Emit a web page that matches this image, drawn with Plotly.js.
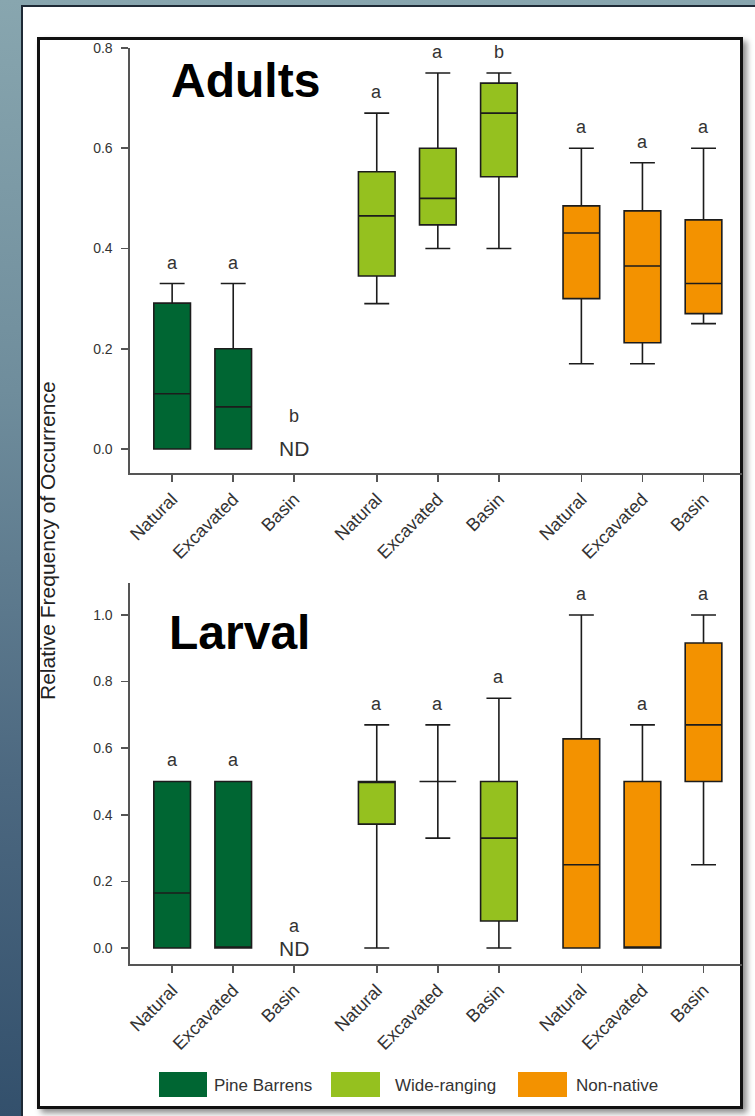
<!DOCTYPE html>
<html>
<head>
<meta charset="utf-8">
<script src="https://cdn.plot.ly/plotly-3.0.1.min.js"></script>
<style>
  html, body { margin:0; padding:0; }
  body { width:755px; height:1116px; position:relative; overflow:hidden;
         background: linear-gradient(to bottom, #88a6af 0%, #6f8d9c 35%, #4c6880 70%, #33506c 100%); }
  #panel { position:absolute; left:21px; top:5px; right:0; bottom:0; background:#ffffff;
           border-top:2px solid #1e2a36; border-left:2px solid #1e2a36; }
  #frame { position:absolute; left:37px; top:37px; width:700px; height:1066px;
           border:3px solid #111; background:#fff; box-shadow: 4px 4px 6px rgba(0,0,0,0.45); }
  #chart { position:absolute; left:0; top:0; width:755px; height:1116px; }
</style>
</head>
<body>
<div id="panel"></div>
<div id="frame"></div>
<div id="chart"></div>
<script>
// ---- data ----
const groups = ["Pine Barrens", "Wide-ranging", "Non-native"];
const sites = ["Natural", "Excavated", "Basin"];
const groupColors = ["#006633", "#95c11f", "#f39200"];

// Adults (order: PB Nat, PB Exc, PB Basin, WR Nat, WR Exc, WR Basin, NN Nat, NN Exc, NN Basin)
const adultLower  = [0.00, 0.00, null, 0.29, 0.40, 0.40, 0.17, 0.17, 0.25];
const adultQ1     = [0.00, 0.00, null, 0.345, 0.447, 0.543, 0.30, 0.212, 0.27];
const adultMedian = [0.11, 0.084, null, 0.465, 0.50, 0.67, 0.431, 0.365, 0.33];
const adultQ3     = [0.291, 0.20, null, 0.553, 0.60, 0.73, 0.485, 0.475, 0.457];
const adultUpper  = [0.33, 0.33, null, 0.67, 0.75, 0.75, 0.60, 0.571, 0.60];
const adultLetters = ["a", "a", "b", "a", "a", "b", "a", "a", "a"];

// Larval
const larvalLower  = [0.00, 0.00, null, 0.00, 0.33, 0.00, 0.00, 0.00, 0.25];
const larvalQ1     = [0.00, 0.00, null, 0.372, 0.50, 0.081, 0.00, 0.00, 0.50];
const larvalMedian = [0.165, 0.00, null, 0.50, 0.50, 0.33, 0.25, 0.00, 0.67];
const larvalQ3     = [0.50, 0.50, null, 0.50, 0.50, 0.50, 0.628, 0.50, 0.916];
const larvalUpper  = [0.50, 0.50, null, 0.67, 0.67, 0.75, 1.00, 0.67, 1.00];
const larvalLetters = ["a", "a", "a", "a", "a", "a", "a", "a", "a"];

const ndLabel = "ND";
const adultTicks = [0.0, 0.2, 0.4, 0.6, 0.8];
const larvalTicks = [0.0, 0.2, 0.4, 0.6, 0.8, 1.0];
const panelTitles = ["Adults", "Larval"];
const yTitle = "Relative Frequency of Occurrence";

// ---- layout helpers ----
const GROUP_STEP = 3.35;
const positions = [];
const tickText = [];
groups.forEach((g, gi) => sites.forEach((s, si) => { positions.push(gi * GROUP_STEP + si); tickText.push(s); }));

const W = 755, H = 1116;
const px = v => v / W;
const py = v => 1 - v / H;

const traces = [];
const annotations = [];
const narrow = "'Liberation Sans Narrow', 'Arial Narrow', 'Liberation Sans', Arial, sans-serif";
const sans = "'Liberation Sans', Arial, Helvetica, sans-serif";

function addPanel(lower, q1, med, q3, upper, letters, xa, ya, ndShift) {
  positions.forEach((p, k) => {
    const gi = Math.floor(k / 3);
    if (med[k] === null) {
      annotations.push({ xref: xa, yref: ya, x: p, y: 0, text: ndLabel, showarrow: false,
        yanchor: "middle", font: { family: narrow, size: 21, color: "#333" } });
      annotations.push({ xref: xa, yref: ya, x: p, y: 0, yshift: ndShift, text: letters[k], showarrow: false,
        yanchor: "middle", font: { family: narrow, size: 18, color: "#333" } });
      return;
    }
    traces.push({
      type: "box", xaxis: xa, yaxis: ya, x: [p],
      q1: [q1[k]], median: [med[k]], q3: [q3[k]], lowerfence: [lower[k]], upperfence: [upper[k]],
      width: 0.6, whiskerwidth: 0.68, boxpoints: false,
      fillcolor: groupColors[gi], line: { color: "#1c1c1c", width: 1.6 },
      showlegend: false, hoverinfo: "skip"
    });
    annotations.push({ xref: xa, yref: ya, x: p, y: upper[k], yshift: 21, text: letters[k], showarrow: false,
      yanchor: "middle", font: { family: narrow, size: 18, color: "#333" } });
  });
}

addPanel(adultLower, adultQ1, adultMedian, adultQ3, adultUpper, adultLetters, "x", "y", 33);
addPanel(larvalLower, larvalQ1, larvalMedian, larvalQ3, larvalUpper, larvalLetters, "x2", "y2", 22);

// panel titles
annotations.push({ xref: "paper", yref: "paper", x: px(169), y: py(80), xanchor: "left", yanchor: "middle",
  text: panelTitles[0], showarrow: false, font: { family: sans, size: 48, color: "#000", weight: "bold" } });
annotations.push({ xref: "paper", yref: "paper", x: px(167), y: py(632), xanchor: "left", yanchor: "middle",
  text: panelTitles[1], showarrow: false, font: { family: sans, size: 48, color: "#000", weight: "bold" } });
// y title
annotations.push({ xref: "paper", yref: "paper", x: px(48), y: py(541), xanchor: "center", yanchor: "middle",
  textangle: -90, text: yTitle, showarrow: false, font: { family: sans, size: 21, color: "#222" } });

// legend (drawn)
const shapes = [];
const legendSw = [[159, 207, 212], [331, 380, 393], [518, 567, 574]];
groups.forEach((g, gi) => {
  const s = legendSw[gi];
  shapes.push({ type: "rect", xref: "paper", yref: "paper", x0: px(s[0]), x1: px(s[1]), y0: py(1097), y1: py(1072),
    fillcolor: groupColors[gi], line: { width: 0 } });
  annotations.push({ xref: "paper", yref: "paper", x: px(s[2]), y: py(1085), xanchor: "left", yanchor: "middle",
    text: g, showarrow: false, font: { family: sans, size: 17, color: "#333" } });
});

const xRange = [-0.69, 9.33];
const commonX = {
  range: xRange, showline: true, linecolor: "#555", linewidth: 1.6, zeroline: false, showgrid: false,
  tickmode: "array", tickvals: positions, ticktext: tickText, ticks: "outside", ticklen: 7, tickcolor: "#555",
  tickwidth: 1.6, tickangle: -45, tickfont: { family: narrow, size: 18, color: "#333" }, fixedrange: true
};
const commonY = {
  showline: true, linecolor: "#555", linewidth: 1.6, zeroline: false, showgrid: false,
  ticks: "outside", ticklen: 7, tickcolor: "#555", tickwidth: 1.6, tickformat: ".1f",
  ticklabelstandoff: 6,
  tickfont: { family: sans, size: 14, color: "#333" }, tickmode: "array"
};

const layout = {
  width: W, height: H, margin: { l: 0, r: 0, t: 0, b: 0 },
  paper_bgcolor: "rgba(0,0,0,0)", plot_bgcolor: "rgba(0,0,0,0)",
  showlegend: false,
  xaxis: Object.assign({}, commonX, { domain: [px(130), px(742)], anchor: "y" }),
  yaxis: Object.assign({}, commonY, { domain: [py(473), py(48)], range: [-0.048, 0.8], tickvals: adultTicks, anchor: "x" }),
  xaxis2: Object.assign({}, commonX, { domain: [px(130), px(742)], anchor: "y2" }),
  yaxis2: Object.assign({}, commonY, { domain: [py(964), py(583)], range: [-0.048, 1.096], tickvals: larvalTicks, anchor: "x2" }),
  annotations: annotations, shapes: shapes
};

Plotly.newPlot("chart", traces, layout, { staticPlot: true, displayModeBar: false });
</script>
</body>
</html>
